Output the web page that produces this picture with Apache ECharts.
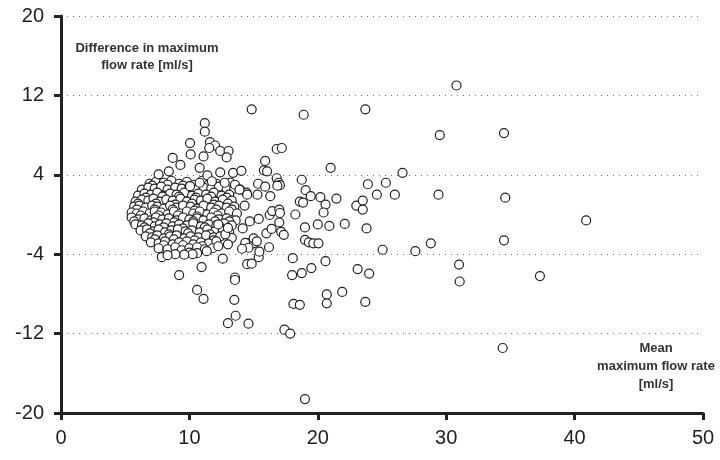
<!DOCTYPE html>
<html>
<head>
<meta charset="utf-8">
<script src="https://cdn.jsdelivr.net/npm/echarts@6/dist/echarts.min.js"></script>
<style>
  html, body { margin: 0; padding: 0; background: #fff; }
  #chart { width: 720px; height: 460px; }
</style>
</head>
<body>
<div id="chart"></div>
<script>
// axis ticks
const xTicks = [0, 10, 20, 30, 40, 50];
const yTicks = [-20, -12, -4, 4, 12, 20];

// dense cluster of patients, [mean flow, difference]
const clusterPoints = [
  [6.9,3.1],[7.4,3.3],[8.0,3.2],[8.6,3.4],[9.2,3.1],[9.8,3.3],[10.4,3.0],[11.0,3.4],[12.1,3.1],[12.6,2.9],[13.2,3.2],
  [7.1,2.9],[8.3,3.0],[9.5,2.9],[10.8,2.9],[11.5,3.0],
  [6.3,2.5],[6.8,2.7],[7.3,2.6],[7.8,2.8],[8.3,2.5],[8.9,2.7],[9.4,2.6],[10.0,2.8],[10.6,2.5],[11.1,2.7],[11.7,2.6],[12.3,2.8],[12.9,2.5],[13.5,2.6],
  [6.0,1.9],[6.5,2.1],[7.0,2.0],[7.5,2.2],[8.0,1.9],[8.5,2.1],[9.0,2.0],[9.6,2.2],[10.2,1.9],[10.7,2.1],[11.3,2.0],[11.9,2.2],[12.5,1.9],[13.1,2.0],
  [6.6,1.7],[7.9,1.8],[9.2,1.8],[10.5,1.7],[11.7,1.8],[12.9,1.7],
  [5.8,1.3],[6.3,1.5],[6.8,1.4],[7.2,1.6],[7.7,1.3],[8.2,1.5],[8.7,1.4],[9.3,1.6],[9.8,1.3],[10.4,1.5],[10.9,1.4],[11.4,1.6],[12.0,1.3],[12.6,1.5],[13.3,1.4],
  [6.0,1.1],[7.4,1.1],[8.9,1.0],[10.2,1.1],[11.9,1.0],[13.0,1.1],
  [5.7,0.8],[6.1,0.9],[6.6,0.7],[7.1,0.9],[7.5,0.8],[8.0,0.6],[8.5,0.9],[9.0,0.7],[9.5,0.9],[10.1,0.8],[10.6,0.6],[11.1,0.9],[11.7,0.7],[12.3,0.9],[12.9,0.7],[13.5,0.8],
  [5.9,0.5],[7.3,0.5],[8.7,0.5],[10.4,0.4],[12.1,0.5],[13.3,0.5],
  [5.5,0.2],[5.9,0.1],[6.4,0.3],[6.9,0.1],[7.3,0.3],[7.8,0.2],[8.3,0.0],[8.8,0.3],[9.3,0.1],[9.8,0.3],[10.3,0.1],[10.8,0.3],[11.4,0.0],[11.9,0.2],[12.5,0.1],[13.1,0.3],[13.7,0.1],
  [6.2,-0.1],[7.6,-0.1],[9.1,-0.1],[10.6,-0.2],[12.2,-0.1],
  [5.5,-0.3],[6.0,-0.5],[6.5,-0.4],[7.0,-0.6],[7.4,-0.3],[7.9,-0.5],[8.4,-0.4],[9.0,-0.6],[9.5,-0.3],[10.0,-0.5],[10.6,-0.4],[11.1,-0.6],[11.7,-0.3],[12.3,-0.5],[12.9,-0.4],[13.6,-0.6],
  [5.7,-0.7],[7.2,-0.8],[8.8,-0.8],[10.3,-0.7],[12.0,-0.7],[13.1,-0.7],
  [5.8,-1.0],[6.3,-1.1],[6.8,-0.9],[7.3,-1.2],[7.7,-1.0],[8.2,-0.9],[8.7,-1.2],[9.2,-1.0],[9.8,-1.1],[10.3,-0.9],[10.9,-1.2],[11.5,-1.0],[12.1,-1.1],[12.7,-0.9],[13.3,-1.1],
  [6.5,-1.3],[8.0,-1.3],[9.5,-1.4],[11.2,-1.3],[12.4,-1.3],
  [6.2,-1.6],[6.7,-1.5],[7.2,-1.7],[7.6,-1.5],[8.1,-1.8],[8.6,-1.6],[9.1,-1.5],[9.7,-1.7],[10.2,-1.6],[10.8,-1.8],[11.4,-1.5],[12.0,-1.7],[12.6,-1.6],[13.1,-1.8],
  [6.9,-1.9],[8.4,-2.0],[9.9,-1.9],[11.6,-2.0],
  [6.6,-2.2],[7.1,-2.3],[7.5,-2.1],[8.0,-2.4],[8.5,-2.2],[9.0,-2.1],[9.6,-2.4],[10.1,-2.2],[10.7,-2.3],[11.3,-2.1],[11.9,-2.3],[12.4,-2.2],
  [7.3,-2.5],[8.8,-2.5],[10.4,-2.6],[11.9,-2.6],
  [7.0,-2.8],[7.6,-2.9],[8.1,-2.7],[8.7,-3.0],[9.2,-2.8],[9.8,-2.7],[10.3,-3.0],[10.9,-2.8],[11.5,-2.9],[12.1,-2.7],
  [8.0,-3.1],[9.5,-3.1],[11.0,-3.2],
  [7.6,-3.4],[8.3,-3.5],[8.9,-3.3],[9.4,-3.6],[10.0,-3.4],[10.6,-3.3],[11.2,-3.5],[11.8,-3.4],
  [8.9,-4.0],[10.6,-3.9]
];

// points above the cluster
const upperPoints = [
  [30.8,13.0],[23.7,10.6],[14.85,10.6],[18.9,10.05],[29.5,8.0],[34.5,8.2],
  [11.2,9.2],[11.2,8.35],[10.05,7.2],[11.6,7.3],[12.0,6.95],[11.55,6.7],[10.1,6.05],
  [12.4,6.4],[13.05,6.4],[12.9,5.75],[11.1,5.85],[16.8,6.6],[17.2,6.7],[8.7,5.7],[9.3,5.0],
  [10.8,4.7],[15.9,5.4],[15.8,4.45],[16.05,4.35],[21.0,4.7],[26.6,4.2],[7.6,4.05],[8.4,4.35],
  [11.4,3.95],[12.4,4.25],[13.4,4.2],[14.05,4.4],
  [10.05,2.85],[10.8,3.2],[11.75,3.35],[12.75,3.2],[13.55,3.0],[13.95,2.5],[14.45,2.2]
];

// points to the right of the cluster
const sidePoints = [
  [16.8,3.65],[16.95,3.2],[17.05,2.95],[16.85,2.9],[18.75,3.5],[15.35,3.1],[15.9,2.8],
  [19.05,2.45],[19.45,1.85],[20.2,1.75],[21.45,1.6],[20.6,1.0],[20.45,0.2],[18.6,1.3],[18.85,1.2],
  [18.25,0.0],[23.9,3.05],[25.3,3.2],[24.6,2.0],[26.0,2.0],[29.4,2.0],[34.6,1.7],
  [23.0,0.9],[23.5,1.4],[23.5,0.5],[40.9,-0.6],[23.8,-1.4],[22.1,-0.95],[20.9,-1.15],[20.0,-1.0],[19.0,-1.3],
  [19.0,-2.55],[19.3,-2.8],[19.65,-2.9],[20.05,-2.9],
  [14.5,2.0],[15.3,2.0],[16.3,1.85],[13.9,2.5],[14.3,0.9],
  [16.25,-0.05],[16.45,0.35],[17.0,0.5],[17.05,0.15],[14.7,-0.7],[15.4,-0.45],[14.15,-1.4],
  [16.0,-1.9],[16.4,-1.45],[17.0,-0.8],[17.15,-1.75],[17.35,-2.05],
  [14.5,-2.9],[15.0,-2.9],[15.0,-2.4],[14.35,-2.85],[14.6,-3.35],[15.25,-2.7],
  [13.3,-2.35],[12.8,-2.0],[13.0,-3.0],[12.25,-3.2],[13.0,-1.35],[12.25,-1.0]
];

// points below the cluster
const lowerPoints = [
  [34.5,-2.6],[28.8,-2.9],[25.05,-3.55],[27.6,-3.7],[31.0,-5.05],[31.05,-6.75],[37.3,-6.2],
  [23.1,-5.5],[24.0,-5.95],[23.7,-8.8],[34.4,-13.45],
  [19.0,-18.6],[17.4,-11.6],[17.85,-12.0],[13.0,-10.95],[13.6,-10.2],[14.6,-11.0],[13.5,-8.6],
  [11.1,-8.5],[10.6,-7.6],[9.2,-6.1],[13.55,-6.35],[13.55,-6.6],[10.95,-5.3],
  [18.1,-9.0],[18.6,-9.1],[18.0,-6.1],[18.75,-5.9],[19.5,-5.4],[18.05,-4.4],[20.6,-4.7],
  [20.7,-8.05],[20.7,-8.95],[21.9,-7.8],
  [14.5,-5.0],[14.85,-4.95],[12.6,-4.45],[15.4,-4.3],[15.45,-3.75],[16.2,-3.3],[14.1,-3.45],
  [7.85,-4.3],[8.3,-4.1],[10.0,-3.85],[10.25,-4.0],[9.6,-4.05],[11.35,-3.7]
];

const allPoints = clusterPoints.concat(upperPoints, sidePoints, lowerPoints);

const chart = echarts.init(document.getElementById('chart'), null, { renderer: 'canvas' });

const labelFont = { fontFamily: 'Liberation Sans, Arial, sans-serif', fontSize: 20, color: '#222' };
const noteStyle = { fontFamily: 'Liberation Sans, Arial, sans-serif', fontSize: 13, fontWeight: 'bold', fill: '#333', align: 'center', verticalAlign: 'middle' };

const option = {
  animation: false,
  backgroundColor: '#fff',
  grid: { left: 61, right: 17, top: 16, bottom: 47 },
  xAxis: {
    type: 'value',
    min: xTicks[0],
    max: xTicks[xTicks.length - 1],
    interval: 10,
    axisLine: { show: true, onZero: false, lineStyle: { color: '#222', width: 3 } },
    axisTick: { show: true, length: 7, lineStyle: { color: '#222', width: 3 } },
    axisLabel: Object.assign({ margin: 15 }, labelFont),
    splitLine: { show: false }
  },
  yAxis: {
    type: 'value',
    min: yTicks[0],
    max: yTicks[yTicks.length - 1],
    interval: 8,
    axisLine: { show: true, onZero: false, lineStyle: { color: '#222', width: 3 } },
    axisTick: { show: true, length: 7, lineStyle: { color: '#222', width: 3 } },
    axisLabel: Object.assign({ margin: 17 }, labelFont),
    splitLine: { show: true, lineStyle: { color: '#777', width: 1, type: [1, 5] } }
  },
  graphic: [
    { type: 'text', x: 147, y: 48, style: Object.assign({ text: 'Difference in maximum' }, noteStyle) },
    { type: 'text', x: 147, y: 65, style: Object.assign({ text: 'flow rate [ml/s]' }, noteStyle) },
    { type: 'text', x: 656, y: 348, style: Object.assign({ text: 'Mean' }, noteStyle) },
    { type: 'text', x: 656, y: 366, style: Object.assign({ text: 'maximum flow rate' }, noteStyle) },
    { type: 'text', x: 656, y: 384, style: Object.assign({ text: '[ml/s]' }, noteStyle) }
  ],
  series: [
    {
      type: 'scatter',
      data: allPoints,
      symbol: 'circle',
      symbolSize: 9,
      itemStyle: { color: '#fff', borderColor: '#222', borderWidth: 1.2, opacity: 1 }
    }
  ]
};

chart.setOption(option);
</script>
</body>
</html>
